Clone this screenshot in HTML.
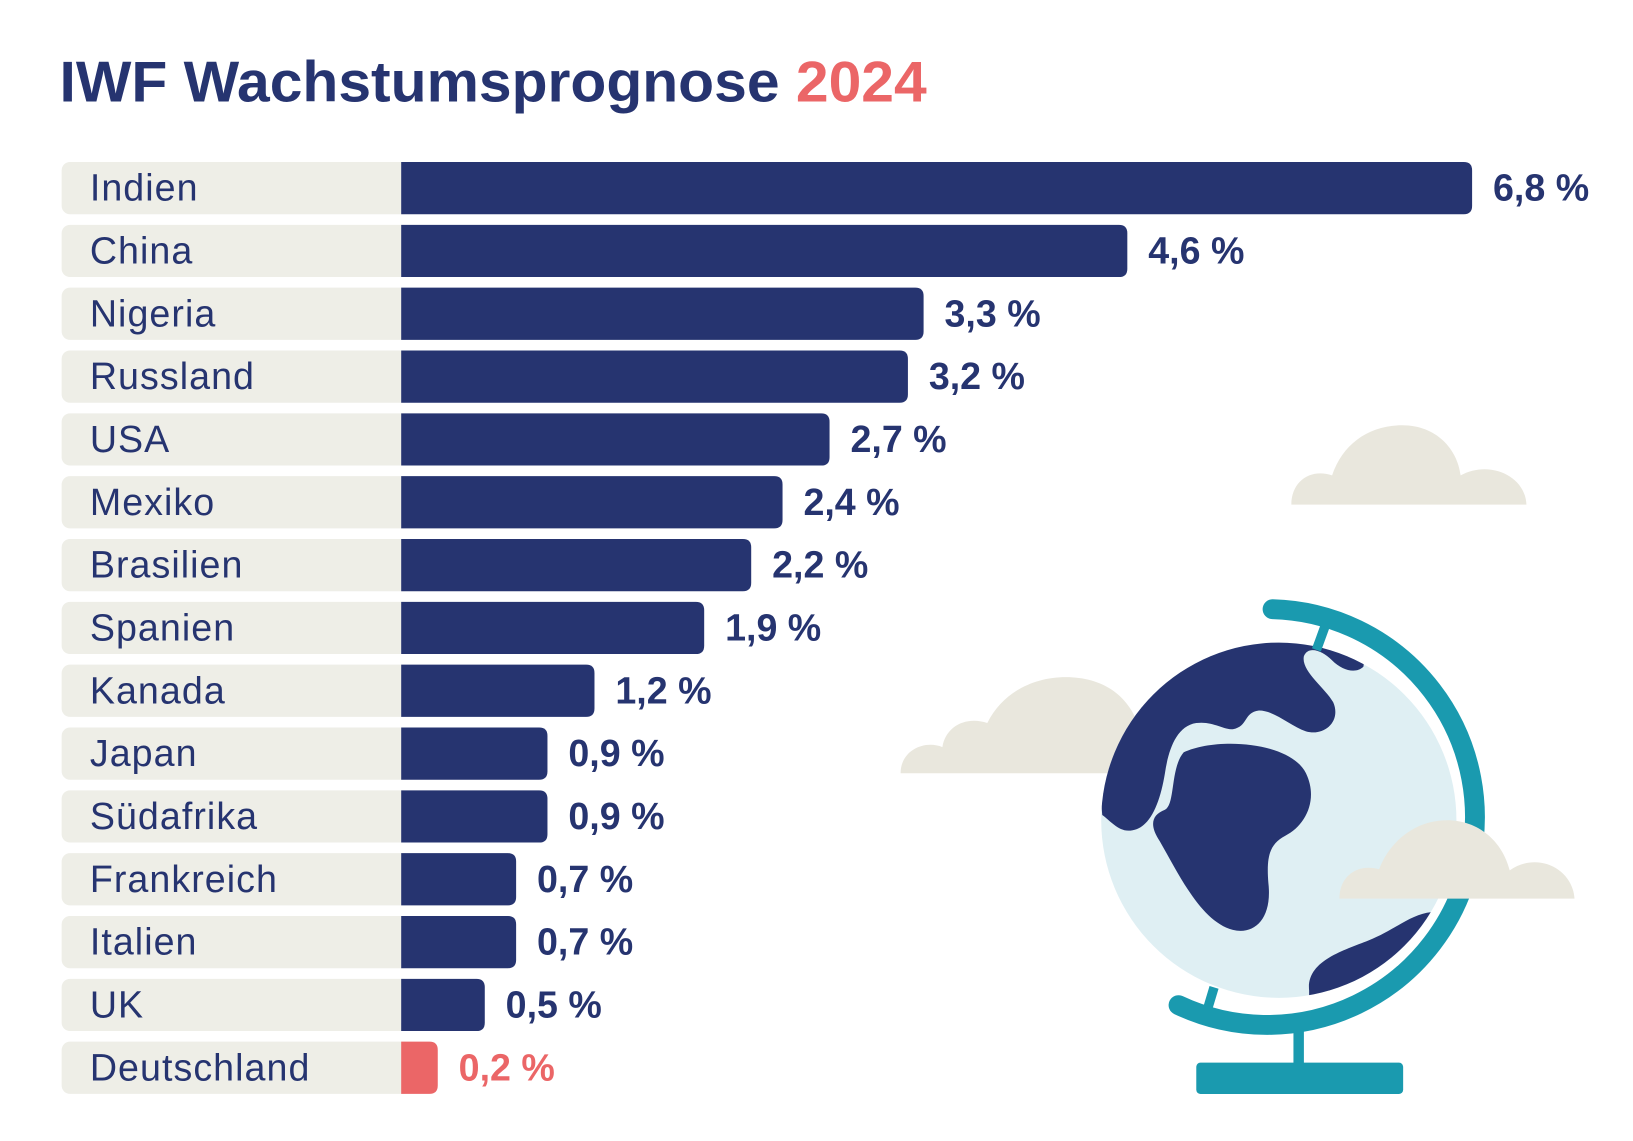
<!DOCTYPE html>
<html><head><meta charset="utf-8"><style>
html,body{margin:0;padding:0;background:#fff;}
svg{display:block;}
text{font-family:"Liberation Sans",sans-serif;}
</style></head><body>
<svg id="chart" width="1633" height="1141" viewBox="0 0 1563 1092" xmlns="http://www.w3.org/2000/svg">
<rect width="1563" height="1092" fill="#fff"/>
<text x="57" y="97" font-size="55" font-weight="bold" fill="#263470" textLength="830" lengthAdjust="spacingAndGlyphs">IWF Wachstumsprognose <tspan fill="#EB6667">2024</tspan></text>

<g>
  <path d="M1236,483 C1236,460 1255,448 1275,455 C1285,425 1310,407 1342,407 C1375,407 1395,430 1398,455 C1425,440 1460,455 1461,483 Z" fill="#E9E7DD"/>
  <path d="M862,740 C862,718 885,708 902,715 C905,695 925,685 945,692 C960,662 990,648 1020,648 C1055,648 1080,665 1090,695 L1095,740 Z" fill="#E9E7DD"/>
  <circle cx="1224" cy="785" r="170" fill="#DFEFF3"/>
  <clipPath id="gc"><circle cx="1224" cy="785" r="170"/></clipPath>
  <g clip-path="url(#gc)" fill="#263470">
    <path d="M1040,600 L1310,600 L1305,638 C1298,645 1285,642 1275,632 C1265,622 1252,618 1248,628 C1245,642 1268,658 1276,672 C1284,690 1268,705 1250,700 C1235,695 1220,680 1205,680 C1190,682 1195,695 1180,698 C1170,698 1160,690 1145,692 C1125,695 1118,720 1115,740 C1110,770 1100,795 1080,795 C1070,795 1062,785 1055,780 Z"/>
    <path d="M1133,720 C1165,705 1235,710 1250,740 C1262,765 1250,790 1230,800 C1215,808 1212,820 1214,845 C1218,880 1200,895 1180,890 C1150,882 1130,840 1110,805 C1100,790 1102,780 1115,775 C1125,770 1120,735 1133,720 Z"/>
    <path d="M1253,948 C1250,920 1285,910 1310,900 C1335,890 1350,875 1370,873 L1420,870 L1420,1000 L1253,1000 Z"/>
  </g>
  <path d="M1218,583 A199,199 0 1 1 1128,962" fill="none" stroke="#1A9AAF" stroke-width="19" stroke-linecap="round"/>
  <line x1="1268" y1="600" x2="1260" y2="622" stroke="#1A9AAF" stroke-width="9"/>
  <line x1="1162" y1="945" x2="1156" y2="965" stroke="#1A9AAF" stroke-width="9"/>
  <rect x="1238" y="985" width="10" height="35" fill="#1A9AAF"/>
  <rect x="1145" y="1017" width="198" height="30" rx="4" fill="#1A9AAF"/>
  <path d="M1282,860 C1282,838 1300,826 1320,832 C1330,805 1355,785 1385,785 C1415,785 1438,805 1445,833 C1470,815 1505,830 1507,860 Z" fill="#E9E7DD"/>
</g>

<g id="bars"></g>
</svg>
<script>
const countries = ["Indien","China","Nigeria","Russland","USA","Mexiko","Brasilien","Spanien","Kanada","Japan","Südafrika","Frankreich","Italien","UK","Deutschland"];
const values = [6.8,4.6,3.3,3.2,2.7,2.4,2.2,1.9,1.2,0.9,0.9,0.7,0.7,0.5,0.2];
const valueLabels = ["6,8 %","4,6 %","3,3 %","3,2 %","2,7 %","2,4 %","2,2 %","1,9 %","1,2 %","0,9 %","0,9 %","0,7 %","0,7 %","0,5 %","0,2 %"];
const highlight = ["Deutschland"];

const NS = "http://www.w3.org/2000/svg";
const g = document.getElementById("bars");
const x0 = 384, rowTop = 155, pitch = 60.14, rowH = 50;
function xLen(v){ return 5 + 150 * v; }
function yPos(i){ return rowTop + i * pitch; }
function mk(tag, attrs){ const e = document.createElementNS(NS, tag); for (const k in attrs) e.setAttribute(k, attrs[k]); return e; }

countries.forEach((c, i) => {
  const y = yPos(i);
  const hl = highlight.includes(c);
  const col = hl ? "#EB6667" : "#263470";
  const bg = mk("rect", {x:59, y:y, width:x0-59+10, height:rowH, rx:8, fill:"#EEEEE7"});
  
  
  g.appendChild(bg);
  const w = xLen(values[i]);
  const bar = mk("path", {d:`M${x0},${y} H${x0+w-8} Q${x0+w},${y} ${x0+w},${y+8} V${y+rowH-8} Q${x0+w},${y+rowH} ${x0+w-8},${y+rowH} H${x0} Z`, fill:col});
  
  
  g.appendChild(bar);
  const lbl = mk("text", {x:86, y:y+rowH/2+12, "font-size":36, "letter-spacing":"1", fill:"#263470"});
  lbl.textContent = c;
  
  
  g.appendChild(lbl);
  const val = mk("text", {x:x0+w+20, y:y+rowH/2+12, "font-size":36, "font-weight":"bold", fill:col});
  val.textContent = valueLabels[i];
  
  
  g.appendChild(val);
});
</script>
</body></html>
